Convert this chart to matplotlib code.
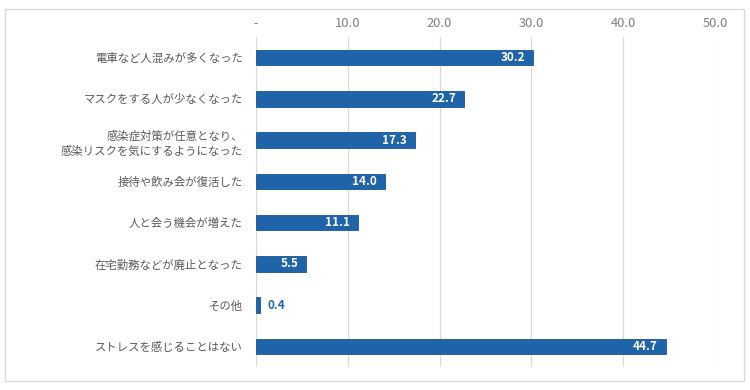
import matplotlib.pyplot as plt
from matplotlib.patches import Rectangle

plt.rcParams['font.family'] = ['Noto Sans CJK JP', 'DejaVu Sans']

# 回答項目と割合(%)
labels = [
    "電車など人混みが多くなった",
    "マスクをする人が少なくなった",
    "感染症対策が任意となり、\n感染リスクを気にするようになった",
    "接待や飲み会が復活した",
    "人と会う機会が増えた",
    "在宅勤務などが廃止となった",
    "その他",
    "ストレスを感じることはない",
]
values = [30.2, 22.7, 17.3, 14.0, 11.1, 5.5, 0.4, 44.7]
ticks = [0, 10, 20, 30, 40, 50]
tick_labels = ["-", "10.0", "20.0", "30.0", "40.0", "50.0"]

bar_color = "#1f63a8"

fig = plt.figure(figsize=(7.5, 3.9), dpi=100)
fig.patches.append(Rectangle((5 / 750, 9 / 390), 739 / 750, 372 / 390,
                             transform=fig.transFigure, fill=False,
                             edgecolor="#d9d9d9", linewidth=1))
ax = fig.add_axes([256 / 750, 23 / 390, 459 / 750, 330 / 390])

y = list(range(len(labels)))
ax.barh(y, values, height=0.38, color=bar_color, edgecolor="#1a5696", linewidth=0.6, zorder=3)

for yi, v in zip(y, values):
    if v < 3:
        ax.text(v + 0.9, yi, f"{v:.1f}", va="center", ha="left",
                color=bar_color, fontsize=8.5, fontweight="bold", zorder=4)
    else:
        ax.text(v - 0.9, yi, f"{v:.1f}", va="center", ha="right",
                color="white", fontsize=8.5, fontweight="bold", zorder=4)

ax.set_ylim(len(labels) - 0.5, -0.5)
ax.set_yticks(y)
ax.set_yticklabels(labels, fontsize=8.2, color="#595959", linespacing=1.55)
ax.set_xlim(0, 50)
ax.set_xticks(ticks)
ax.set_xticklabels(tick_labels, fontsize=9.3, color="#7f7f7f")
ax.xaxis.tick_top()
ax.tick_params(axis="x", length=0, pad=5)
ax.tick_params(axis="y", length=0, pad=9.5)
ax.grid(True, axis="x", color="#d9d9d9", linewidth=0.9, zorder=0)
for s in ax.spines.values():
    s.set_visible(False)

plt.savefig("out.png", dpi=100)
